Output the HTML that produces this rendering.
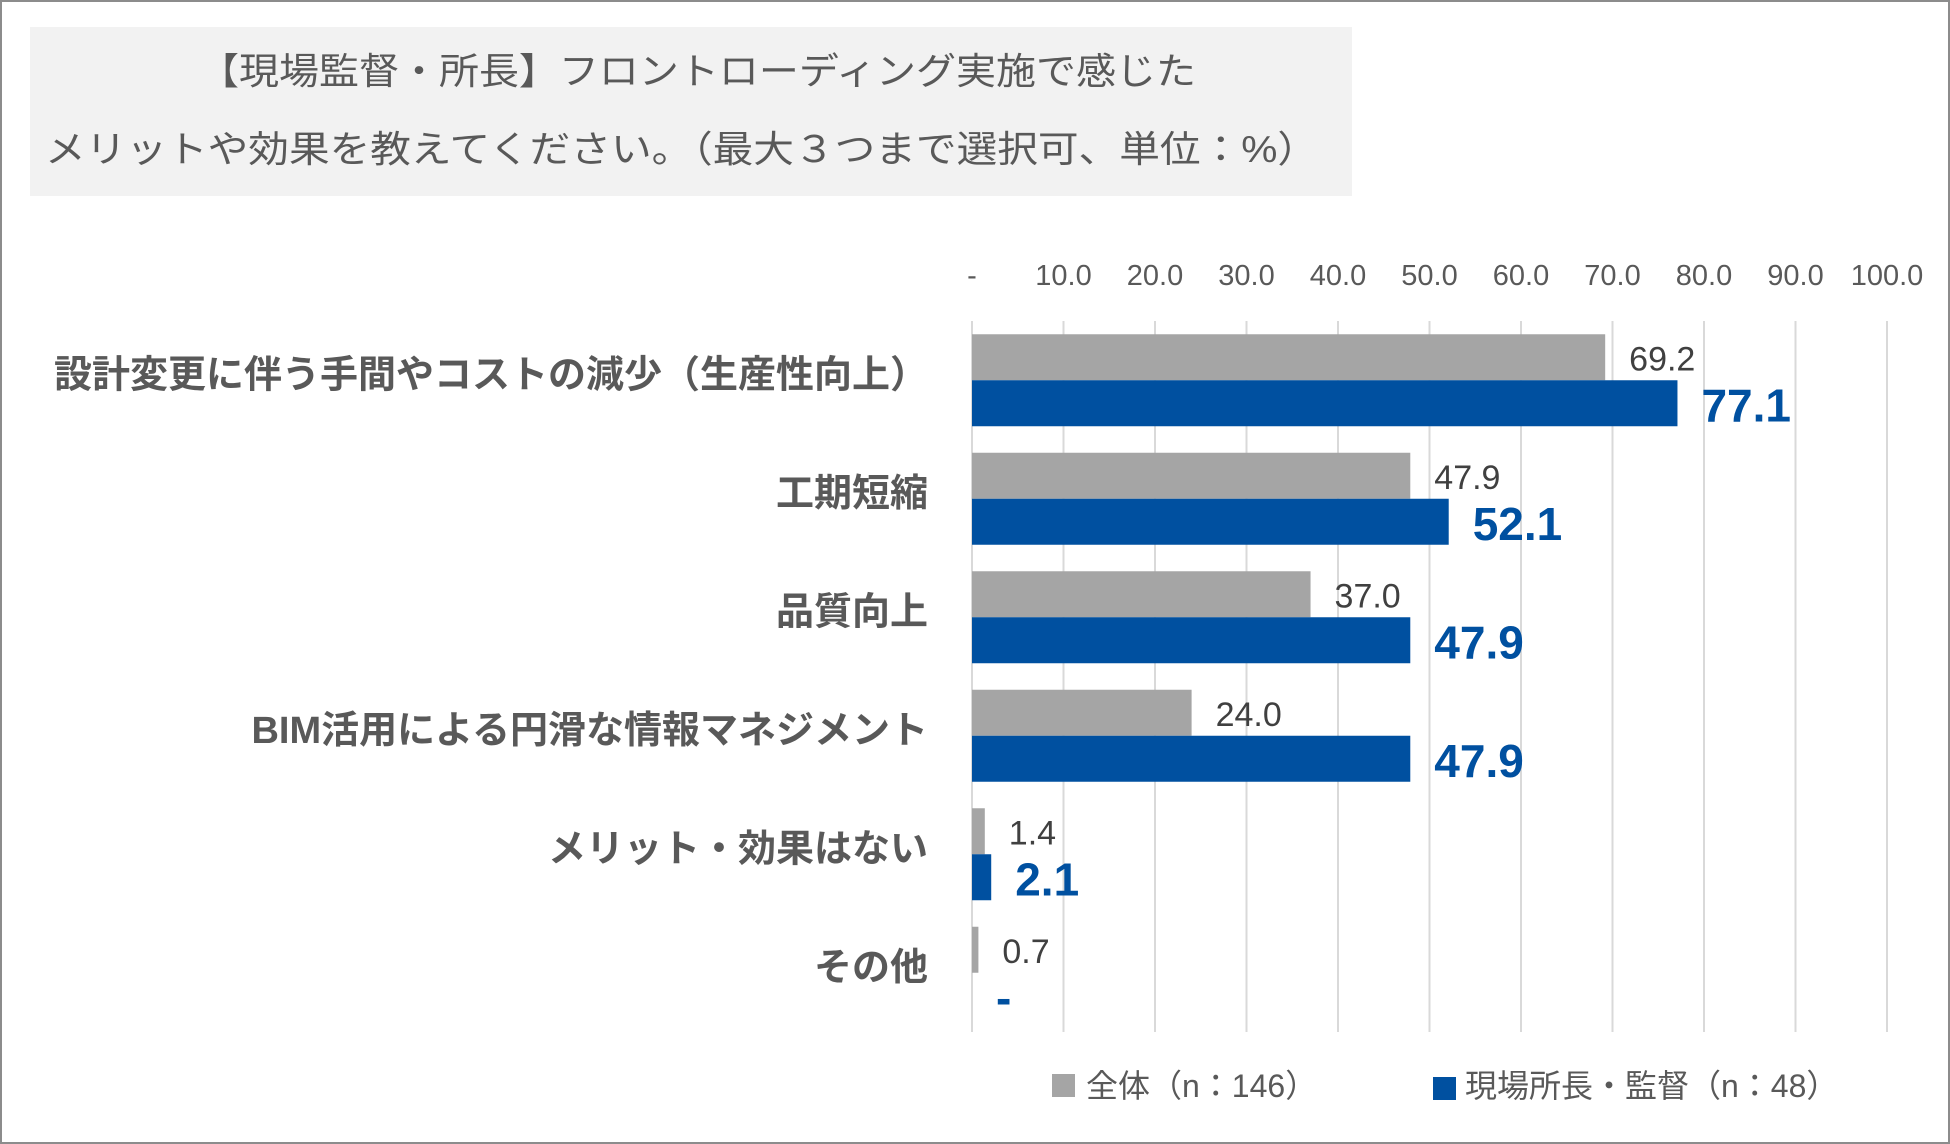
<!DOCTYPE html>
<html><head><meta charset="utf-8"><style>
body{margin:0;background:#fff;}
#wrap{position:relative;width:1950px;height:1144px;overflow:hidden;font-family:"Liberation Sans","Noto Sans CJK JP",sans-serif;}
</style></head><body>
<div id="wrap">
<svg id="chart" width="1950" height="1144" xmlns="http://www.w3.org/2000/svg">
<rect x="1" y="1" width="1948" height="1142" fill="#fff" stroke="#8c8c8c" stroke-width="2"/>
<rect x="30" y="27" width="1322" height="169" fill="#f2f2f2"/>
<text x="199" y="84" textLength="997" lengthAdjust="spacingAndGlyphs" font-size="37" fill="#595959" font-family="Liberation Sans, Noto Sans CJK JP, sans-serif">【現場監督・所長】フロントローディング実施で感じた</text>
<text x="45" y="162" textLength="1273" lengthAdjust="spacingAndGlyphs" font-size="37" fill="#595959" font-family="Liberation Sans, Noto Sans CJK JP, sans-serif">メリットや効果を教えてください。（最大３つまで選択可、単位：%）</text>
<g id="grid"></g><g id="bars"></g><g id="labels"></g>
<rect x="1052" y="1074" width="23" height="23" fill="#a5a5a5"/>
<text x="1086" y="1097" font-size="32" fill="#595959" font-family="Liberation Sans, Noto Sans CJK JP, sans-serif">全体（n：146）</text>
<rect x="1433" y="1077" width="23" height="23" fill="#0050a0"/>
<text x="1465" y="1097" font-size="32" fill="#595959" font-family="Liberation Sans, Noto Sans CJK JP, sans-serif">現場所長・監督（n：48）</text>
</svg>
</div>
<script>
const categories=["設計変更に伴う手間やコストの減少（生産性向上）","工期短縮","品質向上","BIM活用による円滑な情報マネジメント","メリット・効果はない","その他"];
const allValues=[69.2,47.9,37.0,24.0,1.4,0.7];
const siteValues=[77.1,52.1,47.9,47.9,2.1,0];
const tickValues=[0,10,20,30,40,50,60,70,80,90,100];
const tickLabels=["-","10.0","20.0","30.0","40.0","50.0","60.0","70.0","80.0","90.0","100.0"];
const NS="http://www.w3.org/2000/svg";
const plotX0=972,plotX1=1887,plotTop=321,plotBottom=1032;
const xs=v=>plotX0+(plotX1-plotX0)*v/100;
const band=(plotBottom-plotTop)/categories.length;
const yc=i=>plotTop+band*(i+0.5);
const barH=46;
const F='Liberation Sans, Noto Sans CJK JP, sans-serif';
function mk(tag,attrs,parent,text){const e=document.createElementNS(NS,tag);for(const k in attrs)e.setAttribute(k,attrs[k]);if(text!==undefined)e.textContent=text;document.getElementById(parent).appendChild(e);return e;}
tickValues.forEach((v,i)=>{
  const g=mk('line',{x1:xs(v),x2:xs(v),y1:plotTop,y2:plotBottom,stroke:'#d9d9d9','stroke-width':2},'grid');
  
  
  const t=mk('text',{x:xs(v),y:285,'text-anchor':'middle','font-size':29,fill:'#595959','font-family':F},'grid',tickLabels[i]);
  
  
});
categories.forEach((c,i)=>{
  const y=yc(i);
  const l=mk('text',{x:928,y:y+7,'text-anchor':'end','font-size':38,'font-weight':'bold',fill:'#595959','font-family':F},'labels',c);
  
  
  const a=allValues[i],s=siteValues[i];
  const b1=mk('rect',{x:plotX0,y:y-barH,width:Math.max(xs(a)-plotX0,0),height:barH,fill:'#a5a5a5'},'bars');
  
  
  const b2=mk('rect',{x:plotX0,y:y,width:Math.max(xs(s)-plotX0,0),height:barH,fill:'#0050a0'},'bars');
  
  
  const v1=mk('text',{x:xs(a)+24,y:y-10,'font-size':34,fill:'#404040','font-family':F},'labels',a.toFixed(1));
  
  
  const v2=mk('text',{x:xs(s)+24,y:y+41,'font-size':46,'font-weight':'bold',fill:'#0050a0','font-family':F},'labels',s===0?'-':s.toFixed(1));
  
  
});
</script>
</body></html>
